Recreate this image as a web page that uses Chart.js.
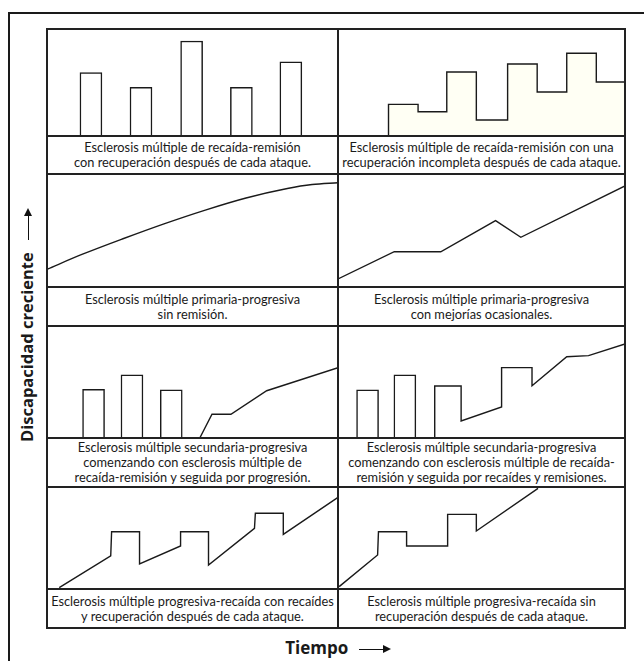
<!DOCTYPE html>
<html>
<head>
<meta charset="utf-8">
<script src="https://cdn.jsdelivr.net/npm/chart.js@4.4.1/dist/chart.umd.min.js"></script>
<style>
  body { margin: 0; background: #fff; width: 644px; height: 661px; position: relative; overflow: hidden;
         font-family: Lato, "Noto Sans", sans-serif; color: #1a1a1a; }
  .frame { position: absolute; left: 8px; top: 12px; width: 650px; height: 670px;
           border-top: 2px solid #1a1a1a; border-left: 2px solid #1a1a1a; }
  canvas { position: absolute; }
  .cap { position: absolute; display: flex; align-items: center; justify-content: center; white-space: nowrap;
         text-align: center; font-size: 12.8px; line-height: 15px; }
  .rule { position: absolute; background: #222; }
  .arrow { display: inline-block; position: relative; width: 30px; height: 1.6px; background: #111; vertical-align: middle; }
  .arrow::after { content: ""; position: absolute; right: -2px; top: -3.5px;
                  border-left: 8px solid #111; border-top: 4.3px solid transparent; border-bottom: 4.3px solid transparent; }
  #ytitle { position: absolute; left: 16px; top: 442px; width: 240px; height: 22px; transform-origin: 0 0;
            transform: rotate(-90deg); font-family: "Open Sans", sans-serif; font-weight: bold; font-size: 16.5px;
            line-height: 22px; white-space: nowrap; }
  #xtitle { position: absolute; left: 0; width: 644px; top: 637px; text-align: center; font-family: "Open Sans", sans-serif;
            font-weight: bold; font-size: 17px; line-height: 22px; white-space: nowrap; padding-left: 30px; box-sizing: border-box; }
</style>
</head>
<body>
<div class="frame"></div>
<div id="ytitle">Discapacidad creciente <span class="arrow" style="margin-left:8px"></span></div>
<div id="xtitle">Tiempo <span class="arrow" style="margin-left:6px"></span></div>
<script>
// panel 1: recaída-remisión con recuperación (bars)
const rrTime = [15.1, 32.3, 49.7, 66.8, 83.8];
const rrDisab = [59.2, 45.5, 88.8, 45.5, 69.4];

// panel 2: recaída-remisión con recuperación incompleta (steps)
const rrIncTime = [17.6, 17.6, 27.9, 27.9, 37.9, 37.9, 48.2, 48.2, 59.1, 59.1, 69.4, 69.4, 79.7, 79.7, 90.0, 90.0, 100];
const rrIncDisab = [0, 29.6, 29.6, 22.7, 22.7, 59.8, 59.8, 15.0, 15.0, 67.3, 67.3, 41.1, 41.1, 77.3, 77.3, 50.5, 50.5];

// panel 3: primaria-progresiva sin remisión
const ppTime = [0, 12, 26.1, 40.2, 54.4, 68.4, 82.6, 91.1, 100];
const ppDisab = [15.7, 28.8, 42.7, 55.9, 68.1, 78.8, 87.2, 90.7, 92.3];

// panel 4: primaria-progresiva con mejorías ocasionales
const ppMejTime = [0, 19.6, 35.8, 54.9, 63.7, 100];
const ppMejDisab = [7.1, 31.2, 31.2, 58.7, 44.0, 89.4];

// panel 5: secundaria-progresiva (bars, then progression)
const spTime = [16.0, 29.2, 42.7];
const spDisab = [43.5, 56.3, 43.1];
const spLineTime = [52.5, 56.7, 63.2, 75.5, 100];
const spLineDisab = [0, 21.2, 21.2, 42.2, 62.8];

// panel 6: secundaria-progresiva con recaídas y remisiones
const spRTime = [10.3, 23.3];
const spRDisab = [43.1, 56.3];
const spRLineTime = [33.7, 33.7, 42.9, 42.9, 57.0, 57.0, 67.6, 67.6, 79.7, 87.3, 100];
const spRLineDisab = [0, 46.4, 46.4, 15.2, 27.7, 62.8, 62.8, 46.7, 72.6, 73.5, 83.9];

// panel 7: progresiva-recaída con recuperación
const prTime = [4.2, 21.9, 22.2, 31.8, 31.8, 45.9, 45.9, 55.5, 55.5, 71.3, 71.6, 81.2, 81.2, 100];
const prDisab = [1.3, 32.4, 56.2, 56.2, 24.5, 42.2, 56.2, 56.2, 23.5, 59.5, 74.2, 74.2, 53.6, 89.9];

// panel 8: progresiva-recaída sin recuperación
const prNoTime = [0.4, 13.8, 14.1, 23.9, 23.9, 38.2, 38.2, 48.2, 48.2, 69.7];
const prNoDisab = [2.3, 33.3, 56.2, 56.2, 42.2, 42.2, 73.2, 73.2, 56.9, 98.7];

const captions = [
  ['Esclerosis múltiple de recaída-remisión', 'con recuperación después de cada ataque.'],
  ['Esclerosis múltiple de recaída-remisión con una', 'recuperación incompleta después de cada ataque.'],
  ['Esclerosis múltiple primaria-progresiva', 'sin remisión.'],
  ['Esclerosis múltiple primaria-progresiva', 'con mejorías ocasionales.'],
  ['Esclerosis múltiple secundaria-progresiva', 'comenzando con esclerosis múltiple de', 'recaída-remisión y seguida por progresión.'],
  ['Esclerosis múltiple secundaria-progresiva', 'comenzando con esclerosis múltiple de recaída-', 'remisión y seguida por recaídes y remisiones.'],
  ['Esclerosis múltiple progresiva-recaída con recaídes', 'y recuperación después de cada ataque.'],
  ['Esclerosis múltiple progresiva-recaída sin', 'recuperación después de cada ataque.']
];

const zip = (xs, ys) => xs.map((x, i) => ({ x: x, y: ys[i] }));

const INK = '#1a1a1a';
const line = (xs, ys, extra) => Object.assign({ type: 'line', data: zip(xs, ys), borderColor: INK, borderWidth: 1.4,
  pointRadius: 0, fill: false, tension: 0, clip: 4 }, extra || {});
const bars = (xs, ys) => ({ type: 'bar', data: zip(xs, ys), backgroundColor: '#fff', borderColor: INK,
  borderWidth: 1.5, borderSkipped: 'bottom', barThickness: 22 });

const panels = [
  [bars(rrTime, rrDisab)],
  [line(rrIncTime, rrIncDisab, { fill: 'origin', backgroundColor: '#fffff4' })],
  [line(ppTime, ppDisab, { cubicInterpolationMode: 'monotone' })],
  [line(ppMejTime, ppMejDisab)],
  [bars(spTime, spDisab), line(spLineTime, spLineDisab)],
  [bars(spRTime, spRDisab), line(spRLineTime, spRLineDisab)],
  [line(prTime, prDisab)],
  [line(prNoTime, prNoDisab)]
];

// layout of the grid
const cols = [{ x: 47, w: 291 }, { x: 338, w: 287 }];
const rows = [{ y: 29, h: 107, cap: 38 }, { y: 174, h: 113, cap: 39 }, { y: 326, h: 112, cap: 49 }, { y: 487, h: 102, cap: 39 }];

panels.forEach((datasets, i) => {
  const c = cols[i % 2], r = rows[Math.floor(i / 2)];
  const cv = document.createElement('canvas');
  cv.width = c.w; cv.height = r.h;
  cv.style.left = c.x + 'px'; cv.style.top = r.y + 'px';
  document.body.appendChild(cv);
  new Chart(cv.getContext('2d'), {
    type: 'line',
    data: { datasets: datasets },
    options: {
      responsive: false, animation: false,
      layout: { padding: 0 },
      plugins: { legend: { display: false }, tooltip: { enabled: false } },
      scales: {
        x: { type: 'linear', min: 0, max: 100, display: false, offset: false },
        y: { type: 'linear', min: 0, max: 100, display: false }
      }
    }
  });

  const cap = document.createElement('div');
  cap.className = 'cap';
  cap.style.left = c.x + 'px'; cap.style.top = (r.y + r.h) + 'px';
  cap.style.width = c.w + 'px'; cap.style.height = r.cap + 'px';
  cap.innerHTML = captions[i].join('<br>');
  document.body.appendChild(cap);
});

// grid rules
const rule = (x, y, w, h) => {
  const d = document.createElement('div');
  d.className = 'rule';
  Object.assign(d.style, { left: x + 'px', top: y + 'px', width: w + 'px', height: h + 'px' });
  document.body.appendChild(d);
};
const hy = [29];
rows.forEach(r => { hy.push(r.y + r.h, r.y + r.h + r.cap); });
hy.forEach(y => rule(46, y - 1, 580, 2));
[47, 338, 625].forEach(x => rule(x - 1, 28, 2, 601));
</script>
</body>
</html>
